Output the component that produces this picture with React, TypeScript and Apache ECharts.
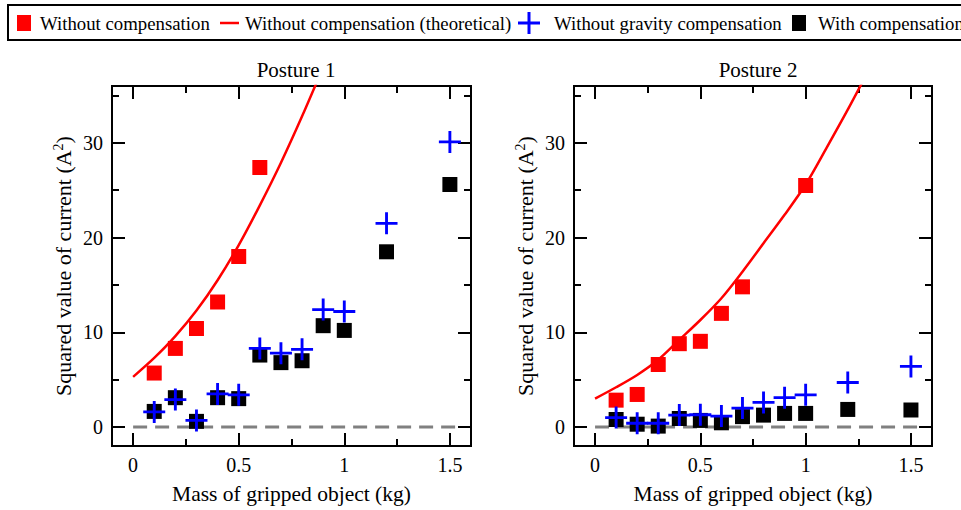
import React, { useEffect, useRef } from "react";
import * as echarts from "echarts";

const FONT = '"Liberation Serif", "Times New Roman", serif';

// ---- data ----
const massAll = [0.1, 0.2, 0.3, 0.4, 0.5, 0.6, 0.7, 0.8, 0.9, 1.0, 1.2, 1.5];

// Posture 1
const massNoComp1 = [0.1, 0.2, 0.3, 0.4, 0.5, 0.6];
const noComp1 = [5.7, 8.3, 10.4, 13.2, 18.0, 27.4];
const theoMass1 = [0, 0.1, 0.2, 0.3, 0.4, 0.5, 0.6, 0.7, 0.8, 0.9];
const theo1 = [5.3, 7.3, 9.6, 12.3, 15.5, 19.2, 23.4, 27.9, 32.8, 38.0];
const noGrav1 = [1.6, 2.9, 0.7, 3.5, 3.4, 8.3, 7.8, 8.2, 12.4, 12.2, 21.5, 30.1];
const withComp1 = [1.65, 3.1, 0.6, 3.1, 3.0, 7.6, 6.8, 7.0, 10.7, 10.2, 18.5, 25.6];

// Posture 2
const massNoComp2 = [0.1, 0.2, 0.3, 0.4, 0.5, 0.6, 0.7, 1.0];
const noComp2 = [2.84, 3.44, 6.6, 8.8, 9.05, 12.0, 14.8, 25.5];
const theoMass2 = [0, 0.1, 0.2, 0.3, 0.4, 0.5, 0.6, 0.7, 0.8, 0.9, 1.0, 1.1, 1.2, 1.3];
const theo2 = [3.0, 4.2, 5.5, 7.1, 9.2, 11.3, 13.6, 16.4, 19.4, 22.4, 25.6, 29.5, 33.5, 37.7];
const noGrav2 = [1.0, 0.4, 0.4, 1.26, 1.3, 1.16, 2.0, 2.6, 3.1, 3.4, 4.7, 6.4];
const withComp2 = [0.8, 0.3, 0.1, 0.9, 0.7, 0.45, 1.1, 1.26, 1.44, 1.44, 1.86, 1.8];

// zero reference line
const zeroMass = [0, 1.53];
const zeroVal = [0, 0];

// axes
const xMajor = [0, 0.5, 1, 1.5];
const xMinor = [0.25, 0.75, 1.25];
const yMajor = [0, 10, 20, 30];
const yMinor = [5, 15, 25, 35];
const X_MIN = -0.1, X_MAX = 1.6, Y_MIN = -2, Y_MAX = 36;

const titles = ["Posture 1", "Posture 2"];
const seriesNames = [
  "Without compensation",
  "Without compensation (theoretical)",
  "Without gravity compensation",
  "With compensation",
];

const PLUS = "path://M10,0H13V10H23V13H13V23H10V13H0V10H10Z";

const zip = (xs: number[], ys: number[]) => xs.map((x, i) => [x, ys[i]]);

export default function App() {
  const ref = useRef<HTMLDivElement>(null);
  useEffect(() => {
    if (!ref.current) return;
    const chart = echarts.init(ref.current, null, { renderer: "svg" });

    const grids = [
      { left: 112, top: 86, width: 359, height: 360 },
      { left: 574, top: 86, width: 358, height: 360 },
    ];
    const lbl = { fontFamily: FONT, fontSize: 20, color: "#000" };
    const nameStyle = { fontFamily: FONT, fontSize: 21.5, color: "#000" };

    const xAxes: any[] = [];
    const yAxes: any[] = [];
    const series: any[] = [];
    const data = [
      { mNC: massNoComp1, nc: noComp1, tm: theoMass1, th: theo1, ng: noGrav1, wc: withComp1 },
      { mNC: massNoComp2, nc: noComp2, tm: theoMass2, th: theo2, ng: noGrav2, wc: withComp2 },
    ];

    grids.forEach((g, gi) => {
      const baseX = xAxes.length;
      const baseY = yAxes.length;
      const xCommon = {
        type: "value", gridIndex: gi, min: X_MIN, max: X_MAX,
        axisLine: { show: false, onZero: false }, splitLine: { show: false },
      };
      const yCommon = {
        type: "value", gridIndex: gi, min: Y_MIN, max: Y_MAX,
        axisLine: { show: false, onZero: false }, splitLine: { show: false },
      };
      const tickStyle = { color: "#000", width: 2 };
      xAxes.push({
        ...xCommon, position: "bottom",
        axisTick: { inside: true, length: 13, lineStyle: tickStyle, customValues: xMajor },
        axisLabel: { ...lbl, margin: 9, customValues: xMajor },
        name: "Mass of gripped object (kg)", nameLocation: "middle", nameGap: 37,
        nameTextStyle: nameStyle,
      });
      xAxes.push({
        ...xCommon, position: "top",
        axisTick: { inside: true, length: 13, lineStyle: tickStyle, customValues: xMajor },
        axisLabel: { show: false },
      });
      xAxes.push({
        ...xCommon, position: "bottom",
        axisTick: { inside: true, length: 7, lineStyle: tickStyle, customValues: xMinor },
        axisLabel: { show: false },
      });
      xAxes.push({
        ...xCommon, position: "top",
        axisTick: { inside: true, length: 7, lineStyle: tickStyle, customValues: xMinor },
        axisLabel: { show: false },
      });
      yAxes.push({
        ...yCommon, position: "left",
        axisTick: { inside: true, length: 13, lineStyle: tickStyle, customValues: yMajor },
        axisLabel: { ...lbl, margin: 9, customValues: yMajor },
        name: "{a|Squared value of current (A}{sup|2}{a|)}", nameLocation: "middle", nameGap: 38,
        nameTextStyle: {
          ...nameStyle,
          fontSize: 22,
          rich: {
            a: { fontFamily: FONT, fontSize: 22, color: "#000", verticalAlign: "bottom", lineHeight: 24 },
            sup: { fontFamily: FONT, fontSize: 14, color: "#000", verticalAlign: "bottom", padding: [0, 0, 9, 0], lineHeight: 14 },
          },
        },
      });
      yAxes.push({
        ...yCommon, position: "right",
        axisTick: { inside: true, length: 13, lineStyle: tickStyle, customValues: yMajor },
        axisLabel: { show: false },
      });
      yAxes.push({
        ...yCommon, position: "left",
        axisTick: { inside: true, length: 7, lineStyle: tickStyle, customValues: yMinor },
        axisLabel: { show: false },
      });
      yAxes.push({
        ...yCommon, position: "right",
        axisTick: { inside: true, length: 7, lineStyle: tickStyle, customValues: yMinor },
        axisLabel: { show: false },
      });

      const d = data[gi];
      const ax = { xAxisIndex: baseX, yAxisIndex: baseY };
      series.push({
        type: "line", ...ax, name: "zero", data: zip(zeroMass, zeroVal), symbol: "none",
        lineStyle: { color: "#808080", width: 3, type: [14, 8] }, z: 1, silent: true,
      });
      series.push({
        type: "line", ...ax, name: seriesNames[1], data: zip(d.tm, d.th), symbol: "none",
        smooth: 0.3, lineStyle: { color: "#ff0000", width: 2.5 }, z: 2, clip: true,
      });
      series.push({
        type: "scatter", ...ax, name: seriesNames[0], data: zip(d.mNC, d.nc),
        symbol: "rect", symbolSize: 15, itemStyle: { color: "#ff0000", opacity: 1 }, z: 3,
      });
      series.push({
        type: "scatter", ...ax, name: seriesNames[3], data: zip(massAll, d.wc),
        symbol: "rect", symbolSize: 15, itemStyle: { color: "#000000", opacity: 1 }, z: 4,
      });
      series.push({
        type: "scatter", ...ax, name: seriesNames[2], data: zip(massAll, d.ng),
        symbol: PLUS, symbolSize: 22, itemStyle: { color: "#0000ff", opacity: 1 }, z: 5,
      });
    });

    const legendText = (x: number, text: string) => ({
      type: "text", x, y: 23,
      style: { text, fontFamily: FONT, fontSize: 18.8, fill: "#000", verticalAlign: "middle", align: "left" },
    });

    const titleStyle = { fontFamily: FONT, fontSize: 21, fontWeight: "normal", color: "#000" };

    chart.setOption({
      animation: false,
      title: [
        { text: titles[0], left: 291, top: 54, textAlign: "center", textStyle: titleStyle },
        { text: titles[1], left: 753, top: 54, textAlign: "center", textStyle: titleStyle },
      ],
      grid: grids.map((g) => ({ ...g, show: true, borderColor: "#000", borderWidth: 2, backgroundColor: "transparent" })),
      xAxis: xAxes,
      yAxis: yAxes,
      series,
      graphic: [
        { type: "rect", shape: { x: 8, y: 5, width: 1000, height: 35 }, style: { fill: "none", stroke: "#000", lineWidth: 2 } },
        { type: "rect", shape: { x: 17, y: 15, width: 14, height: 16 }, style: { fill: "#ff0000" } },
        legendText(40, seriesNames[0]),
        { type: "line", shape: { x1: 220, y1: 23, x2: 239, y2: 23 }, style: { stroke: "#ff0000", lineWidth: 2.5 } },
        legendText(245, seriesNames[1]),
        { type: "line", shape: { x1: 518, y1: 23, x2: 540, y2: 23 }, style: { stroke: "#0000ff", lineWidth: 3 } },
        { type: "line", shape: { x1: 529, y1: 12, x2: 529, y2: 34 }, style: { stroke: "#0000ff", lineWidth: 3 } },
        legendText(554, seriesNames[2]),
        { type: "rect", shape: { x: 792, y: 15, width: 14, height: 16 }, style: { fill: "#000000" } },
        legendText(818, seriesNames[3]),
      ],
    });
    return () => chart.dispose();
  }, []);
  return (
    <div
      ref={ref}
      style={{ position: "absolute", left: 0, top: 0, width: 961, height: 510 }}
    />
  );
}
